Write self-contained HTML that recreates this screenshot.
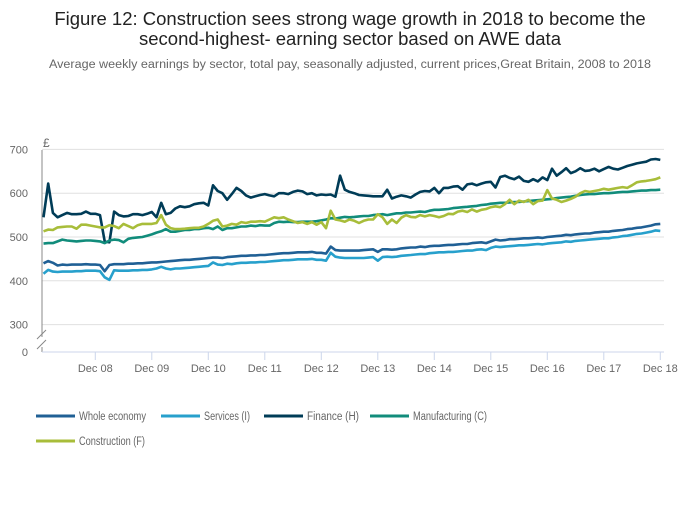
<!DOCTYPE html>
<html><head><meta charset="utf-8"><style>
body{margin:0;background:#fff;width:700px;height:502px;overflow:hidden;font-family:"Liberation Sans",sans-serif}
svg text{font-family:"Liberation Sans",sans-serif}
</style></head><body>
<svg id="chart" width="700" height="502">
<text x="350" y="25" text-anchor="middle" font-size="18.5" fill="#222">Figure 12: Construction sees strong wage growth in 2018 to become the</text>
<text x="350" y="45" text-anchor="middle" font-size="18.5" fill="#222">second-highest- earning sector based on AWE data</text>
<text x="350" y="68" text-anchor="middle" font-size="11.5" fill="#666" textLength="602" lengthAdjust="spacingAndGlyphs">Average weekly earnings by sector, total pay, seasonally adjusted, current prices,Great Britain, 2008 to 2018</text>
<text x="43" y="147" font-size="12" fill="#666">£</text>
<g id="grid"></g><g id="series"></g><g id="legend"></g>
</svg>
<script>
const yTicks=[300,400,500,600,700];
const xTickLabels=["Dec 08","Dec 09","Dec 10","Dec 11","Dec 12","Dec 13","Dec 14","Dec 15","Dec 16","Dec 17","Dec 18"];
const seriesNames=["Whole economy","Services (I)","Finance (H)","Manufacturing (C)","Construction (F)"];
const seriesColors=["#206095","#27a0cc","#003c57","#118c7b","#a8bd3a"];
const finance=[545,622,555,545,550,555,552,552,553,558,553,553,
550,490,488,558,550,547,548,552,552,550,553,557,
545,578,552,555,565,570,568,570,575,577,578,572,
618,605,600,585,598,612,605,595,590,593,596,598,
595,593,600,600,598,603,606,604,598,600,595,597,
596,597,592,640,608,603,600,596,595,594,593,593,
593,608,588,592,595,593,590,597,603,605,604,612,
600,612,612,615,616,608,620,622,618,622,625,626,
613,637,640,635,632,638,628,626,632,627,636,630,
656,640,648,657,646,650,657,651,652,656,650,655,
660,656,654,658,662,665,668,670,672,677,678,676];
const construction=[513,517,516,522,523,524,524,519,528,528,526,524,
522,522,527,525,520,530,525,520,527,530,530,530,
532,550,528,520,518,518,519,520,521,521,524,530,
537,540,524,526,530,528,534,532,535,535,536,535,
540,545,543,545,540,536,532,534,530,534,528,534,
520,560,540,538,535,540,537,532,537,540,540,552,
545,530,540,532,544,550,546,545,550,547,550,548,
545,548,553,552,558,560,557,563,558,562,564,568,
570,568,575,585,575,583,580,585,575,582,583,607,
588,585,580,583,587,592,600,605,603,605,607,610,
608,610,612,614,612,618,625,627,628,630,632,636];
const manufacturing=[485,486,486,490,494,492,491,490,491,492,492,491,
490,486,492,494,493,488,496,498,499,500,503,506,
510,513,518,512,512,514,516,516,518,518,520,521,
518,524,516,520,520,522,524,524,526,525,527,526,
526,532,535,534,535,534,534,535,535,535,536,538,
540,543,542,544,546,545,546,547,548,548,550,551,
552,550,552,554,554,556,556,557,558,557,560,562,
562,563,564,566,567,568,569,570,571,573,574,576,
577,578,578,579,580,580,581,582,583,584,585,586,
587,589,590,591,592,594,596,597,598,598,599,600,
600,601,602,603,603,604,605,606,606,607,607,608];
const wholeEconomy=[440,445,441,435,437,436,437,437,437,438,437,437,
436,422,436,438,438,438,439,439,440,440,441,442,
442,443,444,445,446,447,448,448,449,450,451,452,
453,453,452,454,455,456,457,457,458,458,459,459,
460,461,462,463,463,464,465,465,465,466,464,464,
462,478,470,469,469,469,469,469,470,471,472,466,
472,472,471,472,474,475,476,476,478,477,479,480,
480,481,482,482,483,484,484,486,487,488,486,490,
494,492,493,495,495,496,497,497,498,499,498,500,
501,502,503,505,504,506,507,508,508,510,511,512,
512,514,515,516,518,519,521,522,524,526,529,530];
const services=[416,425,421,420,421,421,421,422,422,423,423,423,
422,408,402,424,423,423,423,424,424,425,425,426,
428,432,428,426,428,428,429,430,431,432,433,434,
442,437,436,439,438,440,441,441,442,442,443,443,
444,445,446,447,447,448,449,449,449,450,448,448,
446,464,455,453,452,452,452,452,452,453,454,446,
454,455,454,455,457,458,459,460,461,461,463,464,
465,465,466,466,467,468,469,469,471,472,470,475,
478,477,478,479,480,481,481,482,483,484,483,485,
486,487,488,490,489,491,492,493,494,495,496,497,
497,499,500,502,503,505,507,508,510,512,515,514];
const allSeries=[wholeEconomy,services,finance,manufacturing,construction];

const NS="http://www.w3.org/2000/svg";
const X0=43.5, PX_PER_MONTH=56.5/12, xAxisY=352;
function xScale(i){return X0+i*PX_PER_MONTH;}
function yScale(v){return 237-(v-500)*0.438;}
function mk(tag,attrs,parent){const e=document.createElementNS(NS,tag);for(const k in attrs)e.setAttribute(k,attrs[k]);parent.appendChild(e);return e;}
const grid=document.getElementById('grid');
yTicks.forEach(t=>{
  const l=mk('line',{x1:42,x2:664,y1:yScale(t),y2:yScale(t),stroke:'#e0e0e0','stroke-width':1},grid);
  
  
  const tx=mk('text',{x:28,y:yScale(t)+4,'text-anchor':'end','font-size':11,fill:'#666'},grid);
  tx.textContent=t;
  
  
});
const zt=mk('text',{x:28,y:xAxisY+4,'text-anchor':'end','font-size':11,fill:'#666'},grid);
zt.textContent='0';


const ya=mk('path',{d:'M42,150V337M42,347V352',stroke:'#888','stroke-width':1,fill:'none'},grid);


const br=mk('path',{d:'M37,339L46,330M37,349L46,340',stroke:'#888','stroke-width':1,fill:'none'},grid);


const xa=mk('line',{x1:42,x2:664,y1:xAxisY,y2:xAxisY,stroke:'#ccd6eb','stroke-width':1},grid);


xTickLabels.forEach((lab,k)=>{
  const x=xScale(11+12*k);
  const tk=mk('line',{x1:x,x2:x,y1:xAxisY,y2:xAxisY+8,stroke:'#ccd6eb'},grid);
  
  
  const tx=mk('text',{x:x,y:372,'text-anchor':'middle','font-size':11,fill:'#666'},grid);
  tx.textContent=lab;
  
  
});
const sg=document.getElementById('series');
allSeries.forEach((s,si)=>{
  const d=s.map((v,i)=>(i?'L':'M')+xScale(i).toFixed(1)+','+yScale(v).toFixed(1)).join('');
  const p=mk('path',{d:d,stroke:seriesColors[si],'stroke-width':2.6,fill:'none','stroke-linejoin':'round'},sg);
  
  
});
const lg=document.getElementById('legend');
const legPos=[[36,416],[161,416],[264,416],[370,416],[36,441]];
const legW=[67,46,52,74,66];
seriesNames.forEach((n,i)=>{
  const [x,y]=legPos[i];
  const g=mk('g',{},lg);
  
  
  mk('line',{x1:x,x2:x+39,y1:y,y2:y,stroke:seriesColors[i],'stroke-width':3},g);
  const t=mk('text',{x:x+43,y:y+4,'font-size':11.5,fill:'#666',textLength:legW[i],lengthAdjust:'spacingAndGlyphs'},g);
  t.textContent=n;
});
</script>
</body></html>
